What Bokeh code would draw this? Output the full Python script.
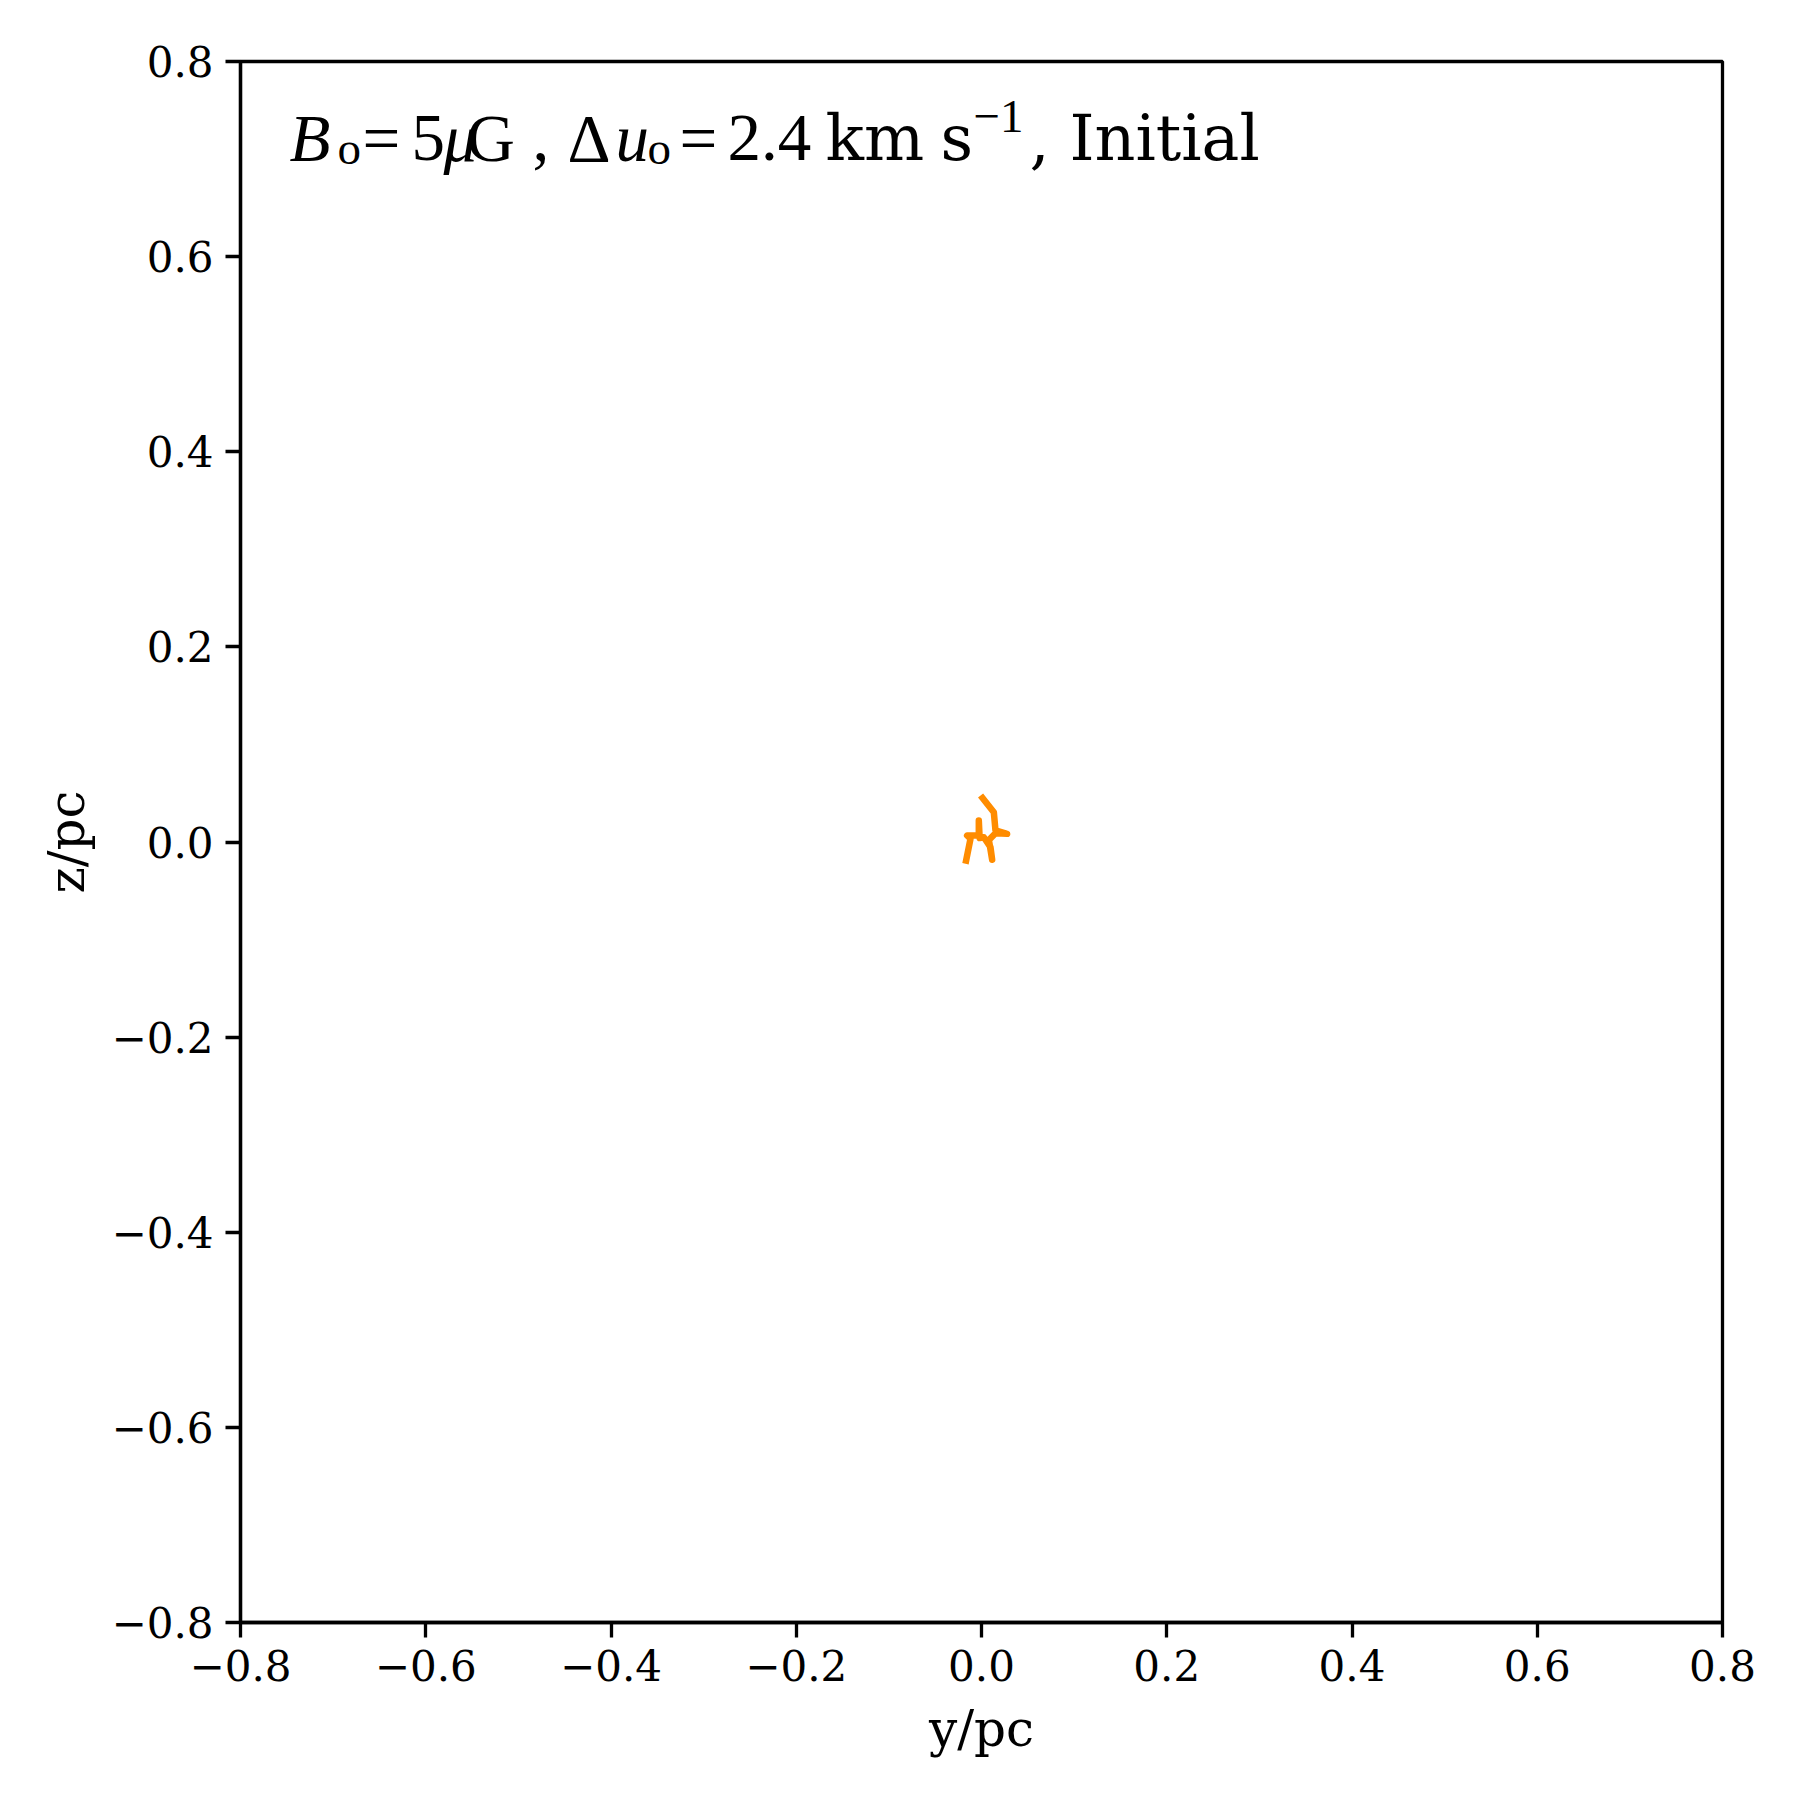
from bokeh.plotting import figure
from bokeh.models import FixedTicker, Label, Range1d
from bokeh.embed import file_html
from bokeh.resources import INLINE

# Trajectory (y/pc, z/pc)
traj_y = [-0.0173, -0.0119, -0.0155, -0.0029, -0.0029, -0.0020, 0.0025, 0.0097,
          0.0115, 0.0080, 0.0151, 0.0277, 0.0151, 0.0133, -0.0010]
traj_z = [-0.0223, 0.0033, 0.0067, 0.0067, 0.0220, 0.0040, 0.0049, -0.0053,
          -0.0182, 0.0020, 0.0090, 0.0084, 0.0118, 0.0306, 0.0477]

ticks = [-0.8, -0.6, -0.4, -0.2, 0.0, 0.2, 0.4, 0.6, 0.8]
tick_labels = ["\u22120.8", "\u22120.6", "\u22120.4", "\u22120.2", "0.0", "0.2", "0.4", "0.6", "0.8"]

FONT = "DejaVu Serif"
MATH = "Liberation Serif"

p = figure(frame_width=1482, frame_height=1561,
           x_range=Range1d(-0.8, 0.8), y_range=Range1d(-0.8, 0.8),
           output_backend="svg", toolbar_location=None,
           min_border_left=240, min_border_top=61, min_border_right=50, min_border_bottom=150)
p.background_fill_color = "white"
p.border_fill_color = "white"
p.xgrid.visible = False
p.ygrid.visible = False
p.outline_line_color = "black"
p.outline_line_width = 3.3
p.outline_line_alpha = 1.0

p.line(traj_y, traj_z, line_color="darkorange", line_width=6.5,
       line_join="round", line_cap="butt")

overrides = {t: l for t, l in zip(ticks, tick_labels)}
for ax in (p.xaxis[0], p.yaxis[0]):
    ax.ticker = FixedTicker(ticks=ticks)
    ax.major_label_overrides = overrides
    ax.minor_tick_line_color = None
    ax.major_tick_out = 15
    ax.major_tick_in = 0
    ax.major_tick_line_width = 3.3
    ax.axis_line_width = 3.3
    ax.major_label_text_font = FONT
    ax.major_label_text_font_size = "42px"
    ax.major_label_text_color = "black"
    ax.major_label_standoff = 12
    ax.axis_label_text_font = FONT
    ax.axis_label_text_font_size = "50px"
    ax.axis_label_text_font_style = "normal"
    ax.axis_label_text_color = "black"
    ax.axis_label_standoff = 16

p.xaxis.axis_label = "y/pc"
p.yaxis.axis_label = "z/pc"
p.yaxis[0].axis_label_standoff = 13


def px2x(px):
    return (px - 981.0) / 926.25


def px2y(py):
    # empirical correction for where the svg text baseline lands
    return (841.5 - (py - 18)) / 975.6


MBIG = 67
MSMALL = 47
TBIG = 63.5
base = 156
pieces = [
    ("B", 289, base, MBIG, "italic", MATH),
    ("o", 337, base + 10, MSMALL, "normal", MATH),
    ("=", 362, base, MBIG, "normal", MATH),
    ("5", 411, base, MBIG, "normal", MATH),
    ("\u03bc", 443, base, MBIG, "italic", MATH),
    ("G", 466, base, MBIG, "normal", MATH),
    (",", 532, base, MBIG, "normal", MATH),
    ("\u0394", 567, base, MBIG, "normal", MATH),
    ("u", 615, base, MBIG, "italic", MATH),
    ("o", 647, base + 10, MSMALL, "normal", MATH),
    ("=", 679, base, MBIG, "normal", MATH),
    ("2.4", 727, base, MBIG, "normal", MATH),
    ("km", 825, base, TBIG, "normal", FONT),
    ("s", 940, base, TBIG, "normal", FONT),
    ("\u22121", 973, base - 22, MSMALL, "normal", MATH),
    (",", 1029, base, TBIG, "normal", FONT),
    ("Initial", 1069, base, TBIG, "normal", FONT),
]
for txt, x, y, fs, style, font in pieces:
    p.add_layout(Label(x=px2x(x), y=px2y(y), text=txt, text_font=font,
                       text_font_size=f"{fs}px", text_font_style=style,
                       text_align="left", text_baseline="alphabetic",
                       text_color="black"))

open("out.html", "w").write(file_html(p, INLINE))
